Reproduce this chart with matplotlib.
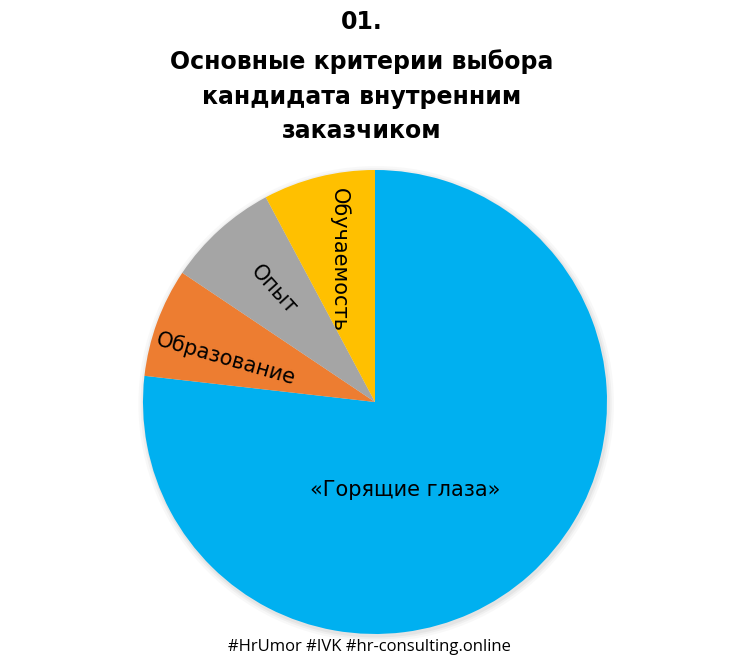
import numpy as np
import matplotlib
matplotlib.use('Agg')
import matplotlib.pyplot as plt
from matplotlib.patches import Circle

# данные
categories = ['«Горящие глаза»', 'Образование', 'Опыт', 'Обучаемость']
values = [76.8, 7.6, 7.8, 7.8]
colors = ['#00B0F0', '#ED7D31', '#A5A5A5', '#FFC000']
title_lines = ['01.', 'Основные критерии выбора', 'кандидата внутренним', 'заказчиком']
footer = '#HrUmor #IVK #hr-consulting.online'

fig = plt.figure(figsize=(7.5, 6.72), dpi=100)
ax = fig.add_axes([0.1752, 0.0393, 0.6496, 0.7250])

# мягкая тень под диаграммой
for r, a in [(1.025, 0.05), (1.015, 0.07), (1.007, 0.09)]:
    ax.add_patch(Circle((0.005, -0.008), r, color='grey', alpha=a, lw=0, zorder=0))

wedges, _ = ax.pie(values, colors=colors, startangle=90, counterclock=False,
                   radius=1, wedgeprops=dict(linewidth=0))

# подписи секторов (поворот как в оригинале)
label_r = [None, 0.67, 0.65, 0.63]
ang_shift = [0, 4, 0, 0]
rot = [0, -16, -48, -90]
for i, w in enumerate(wedges):
    if i == 0:
        x, y = 0.13, -0.38
    else:
        ang = np.deg2rad((w.theta1 + w.theta2) / 2 + ang_shift[i])
        x, y = label_r[i] * np.cos(ang), label_r[i] * np.sin(ang)
    ax.text(x, y, categories[i], ha='center', va='center', rotation=rot[i],
            rotation_mode='anchor', fontsize=15, color='black')

ax.set_xlim(-1.05, 1.05)
ax.set_ylim(-1.05, 1.05)
ax.set_aspect('equal')
ax.axis('off')

# заголовок
ys = [22, 62, 97, 131]
for line, y in zip(title_lines, ys):
    fig.text(362 / 750, 1 - y / 672, line, ha='center', va='center',
             fontsize=17, fontweight='bold', family='DejaVu Sans')

fig.text(369 / 750, 1 - 647 / 672, footer, ha='center', va='center',
         fontsize=12, family='Open Sans')

plt.savefig('out.png', dpi=100, facecolor='white')
